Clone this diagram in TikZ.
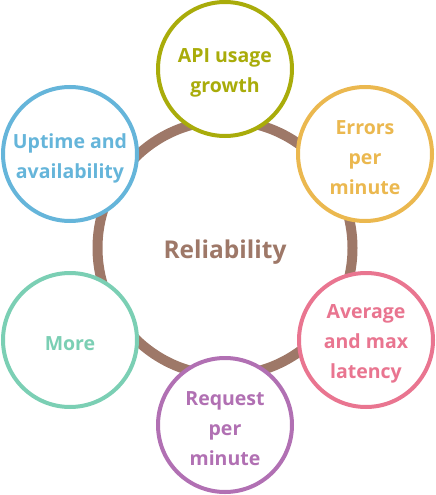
\documentclass[tikz,border=0pt]{standalone}
\usepackage{fontspec}
\setmainfont{Open Sans}
\definecolor{cbrown}{HTML}{9E7868}
\definecolor{colive}{HTML}{A9AC0A}
\definecolor{cgold}{HTML}{EBB84F}
\definecolor{cblue}{HTML}{65B5DA}
\definecolor{cpink}{HTML}{E97590}
\definecolor{cpurple}{HTML}{B170B3}
\definecolor{cteal}{HTML}{7BCFB4}
\begin{document}
\begin{tikzpicture}[x=1pt,y=-1pt,
  sat/.style={circle,draw=#1,line width=4pt,fill=white,minimum size=134pt,inner sep=0pt},
  sattext/.style={text=#1,align=center,inner sep=0pt,font=\bfseries\fontsize{19.5}{30}\selectfont},
  hub/.style={circle,draw=cbrown,line width=10pt,minimum size=255pt,inner sep=0pt},
  hubtext/.style={text=cbrown,inner sep=0pt,font=\bfseries\fontsize{24.5}{28}\selectfont}]
\useasboundingbox (0,0) rectangle (436,495);
\node[hub] (center) at (225,248) {};
\node[hubtext] (centert) at ([yshift=-4pt]center.center) {Reliability};
\node[sat=colive] (api) at (225,69) {};
\node[sattext=colive] (apit) at ([yshift=-4pt]api.center) {API usage\\growth};
\node[sat=cgold] (err) at (365,154) {};
\node[sattext=cgold] (errt) at ([yshift=-4pt]err.center) {Errors\\per\\minute};
\node[sat=cpink] (lat) at (366,340) {};
\node[sattext=cpink] (latt) at ([yshift=-4pt]lat.center) {Average\\and max\\latency};
\node[sat=cpurple] (req) at (225,425) {};
\node[sattext=cpurple] (reqt) at ([yshift=-4pt]req.center) {Request\\per\\minute};
\node[sat=cteal] (more) at (70,340) {};
\node[sattext=cteal] (moret) at ([yshift=-4pt]more.center) {More};
\node[sat=cblue] (up) at (70,154) {};
\node[sattext=cblue] (upt) at ([yshift=-4pt]up.center) {Uptime and\\availability};
\end{tikzpicture}
\end{document}
